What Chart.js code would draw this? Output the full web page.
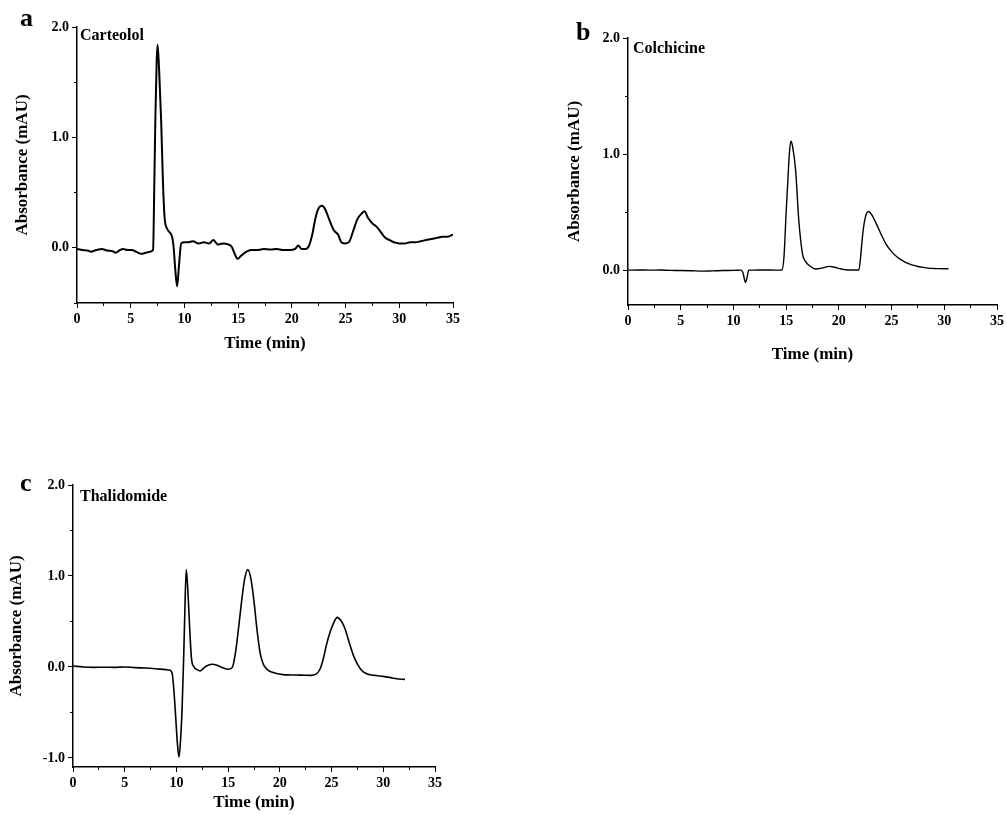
<!DOCTYPE html>
<html>
<head>
<meta charset="utf-8">
<script src="https://cdn.jsdelivr.net/npm/chart.js@4.4.0/dist/chart.umd.min.js"></script>
<style>
  body { margin: 0; background: #fff; width: 1007px; height: 815px; position: relative; overflow: hidden;
         font-family: "Liberation Serif", "Times New Roman", serif; }
  canvas { position: absolute; }
  .letter { position: absolute; font-weight: bold; font-size: 26px; line-height: 1; z-index: 2; }
  .name { position: absolute; font-weight: bold; font-size: 16px; line-height: 1; z-index: 2; }
</style>
</head>
<body>
<canvas id="chartA" width="480" height="370" style="left:0;top:0"></canvas>
<canvas id="chartB" width="467" height="370" style="left:540px;top:0"></canvas>
<canvas id="chartC" width="480" height="355" style="left:0;top:460px"></canvas>

<div class="letter" style="left:20px;top:5px">a</div>
<div class="letter" style="left:576px;top:19px">b</div>
<div class="letter" style="left:20px;top:470px">c</div>
<div class="name" style="left:80px;top:27px">Carteolol</div>
<div class="name" style="left:633px;top:40px">Colchicine</div>
<div class="name" style="left:80px;top:488px">Thalidomide</div>

<script>
// a - Carteolol
const carteololTime = [0, 0.5, 1.0, 1.3, 1.8, 2.3, 2.8, 3.3, 3.6, 4.0, 4.3, 4.7, 5.1, 5.5, 6.0, 6.4, 6.8, 7.08,
  7.2, 7.3, 7.42, 7.5, 7.65, 7.83, 8.0, 8.14, 8.4, 8.85, 9.0, 9.15, 9.32, 9.5, 9.7, 10.0, 10.3, 10.8, 11.3, 11.8,
  12.3, 12.7, 13.1, 13.6, 14.1, 14.4, 14.7, 14.95, 15.3, 15.7, 16.2, 16.8, 17.4, 18.0, 18.6, 19.2, 19.8, 20.3,
  20.6, 20.9, 21.3, 21.6, 21.9, 22.2, 22.5, 22.8, 23.1, 23.5, 23.9, 24.3, 24.6, 24.9, 25.3, 25.7, 26.1, 26.5,
  26.75, 27.1, 27.5, 27.9, 28.3, 28.7, 29.1, 29.5, 30.0, 30.5, 31.0, 31.5, 32.0, 32.5, 33.0, 33.5, 34.0, 34.5, 35.0];
const carteololAbs = [-0.01, -0.02, -0.025, -0.035, -0.02, -0.01, -0.025, -0.03, -0.045, -0.02, -0.01, -0.02, -0.02,
  -0.035, -0.055, -0.045, -0.035, -0.02,
  0.6, 1.2, 1.7, 1.84, 1.6, 1.16, 0.6, 0.29, 0.17, 0.1, 0.0, -0.2, -0.35, -0.15, 0.04, 0.05, 0.05, 0.06, 0.04, 0.05,
  0.04, 0.07, 0.03, 0.04, 0.03, 0.01, -0.06, -0.1, -0.07, -0.04, -0.02, -0.02, -0.01, -0.015, -0.01, -0.02, -0.02, -0.01,
  0.02, -0.01, -0.01, 0.02, 0.12, 0.27, 0.36, 0.38, 0.35, 0.25, 0.16, 0.12, 0.05, 0.04, 0.05, 0.15, 0.26, 0.31,
  0.33, 0.27, 0.22, 0.19, 0.14, 0.09, 0.07, 0.05, 0.04, 0.04, 0.05, 0.05, 0.06, 0.07, 0.08, 0.09, 0.1, 0.1, 0.12];

// b - Colchicine
const colchicineTime = [0, 1, 2, 3, 4, 5, 6, 7, 8, 9, 10, 10.7, 10.9, 11.05, 11.15, 11.3, 11.45, 12, 13, 14, 14.6,
  14.8, 15.0, 15.15, 15.3, 15.45, 15.6, 15.9, 16.2, 16.55, 16.8, 17.2, 17.8, 18.5, 19.1, 19.6, 20.2, 21.0, 21.9,
  22.05, 22.25, 22.5, 22.8, 23.1, 23.5, 24.0, 24.5, 25.0, 25.5, 26.0, 26.5, 27.0, 27.5, 28.0, 28.5, 29.0, 29.5, 30.0, 30.4];
const colchicineAbs = [0.0, 0.002, 0.0, 0.001, -0.002, -0.003, -0.005, -0.008, -0.006, -0.003, -0.002, 0.0, -0.02,
  -0.08, -0.105, -0.06, 0.0, 0.0, 0.002, 0.0, 0.002,
  0.12, 0.5, 0.75, 1.0, 1.11, 1.07, 0.86, 0.43, 0.14, 0.08, 0.04, 0.01, 0.02, 0.033, 0.025, 0.01, 0.002, 0.002,
  0.1, 0.3, 0.45, 0.505, 0.48, 0.41, 0.31, 0.22, 0.16, 0.115, 0.085, 0.06, 0.043, 0.032, 0.024, 0.018, 0.015,
  0.013, 0.012, 0.012];

// c - Thalidomide
const thalidomideTime = [0, 1, 2, 3, 4, 5, 6, 7, 8, 9, 9.4, 9.6, 9.75, 9.9, 10.1, 10.25, 10.4, 10.55, 10.7, 10.8,
  10.95, 11.1, 11.25, 11.45, 11.7, 12.0, 12.3, 12.6, 13.0, 13.5, 14.0, 14.5, 15.0, 15.4, 15.7, 16.0, 16.3, 16.6,
  16.9, 17.2, 17.5, 17.8, 18.1, 18.4, 18.8, 19.2, 19.8, 20.3, 21.0, 22.0, 23.0, 23.5, 23.9, 24.2, 24.5, 24.85,
  25.15, 25.55, 25.9, 26.3, 26.7, 27.1, 27.5, 27.9, 28.3, 28.7, 29.3, 30.0, 30.6, 31.3, 32.1];
const thalidomideAbs = [0.01, 0.0, -0.005, -0.003, -0.005, 0.0, -0.008, -0.012, -0.02, -0.03, -0.037, -0.08, -0.25,
  -0.5, -0.85, -0.99, -0.8, -0.45, 0.1, 0.55,
  1.07, 0.85, 0.5, 0.1, 0.0, -0.03, -0.045, -0.015, 0.015, 0.03, 0.015, -0.01, -0.026, -0.005, 0.15, 0.42, 0.72, 0.97,
  1.07, 0.97, 0.72, 0.4, 0.15, 0.03, -0.03, -0.055, -0.075, -0.085, -0.088, -0.09, -0.093, -0.08, -0.02, 0.09, 0.24, 0.38,
  0.47, 0.545, 0.51, 0.42, 0.27, 0.13, 0.03, -0.037, -0.07, -0.085, -0.095, -0.104, -0.115, -0.13, -0.137];

const timeMax = 35;
const timeStep = 5;
const absStep = 1;

const tickFont = { family: "'Liberation Serif', 'Times New Roman', serif", size: 14, weight: 'bold' };
const titleFont = { family: "'Liberation Serif', 'Times New Roman', serif", size: 17, weight: 'bold' };

const isWhole = (v, step) => Math.abs(v / step - Math.round(v / step)) < 1e-6;

function makePanel(id, times, values, p) {
  const fixSize = (size) => (scale) => {
    if (scale.isHorizontal()) scale.height = size; else scale.width = size;
  };
  new Chart(document.getElementById(id).getContext('2d'), {
    type: 'line',
    data: {
      datasets: [{
        data: times.map((t, i) => ({ x: t, y: values[i] })),
        borderColor: '#000',
        borderWidth: p.lineWidth,
        pointRadius: 0,
        fill: false,
        cubicInterpolationMode: 'monotone',
      }],
    },
    options: {
      responsive: false,
      animation: false,
      devicePixelRatio: 1,
      layout: { padding: p.padding },
      plugins: { legend: { display: false }, tooltip: { enabled: false } },
      scales: {
        x: {
          type: 'linear', position: 'bottom', min: 0, max: timeMax,
          ticks: { stepSize: timeStep, maxTicksLimit: 100, autoSkip: false, maxRotation: 0, color: '#000', font: tickFont, padding: 3 },
          grid: { drawOnChartArea: false, tickLength: 5, tickColor: '#000', tickWidth: 1 },
          border: { color: '#000', width: 1.5 },
          title: { display: true, text: 'Time (min)', color: '#000', font: titleFont, padding: { top: 0, bottom: p.xTitlePad } },
          afterFit: fixSize(p.xAxisH),
        },
        xm: {
          type: 'linear', position: 'bottom', weight: -1, min: 0, max: timeMax,
          ticks: { display: false, stepSize: timeStep / 2, maxTicksLimit: 100 },
          grid: { drawOnChartArea: false, tickLength: 3, tickColor: '#000', tickWidth: 1 },
          border: { display: false },
          afterFit: fixSize(0),
        },
        y: {
          type: 'linear', position: 'left', min: p.yMin, max: p.yMax,
          ticks: {
            stepSize: absStep, maxTicksLimit: 100, autoSkip: false, includeBounds: false,
            color: '#000', font: tickFont, padding: 3,
            callback: (v) => isWhole(v, absStep) ? v.toFixed(1) : '',
          },
          grid: {
            drawOnChartArea: false, tickLength: 5, tickWidth: 1,
            tickColor: (ctx) => ctx.tick && isWhole(ctx.tick.value, absStep) ? '#000' : 'rgba(0,0,0,0)',
          },
          border: { color: '#000', width: 1.5 },
          title: { display: true, text: 'Absorbance (mAU)', color: '#000', font: titleFont, padding: { top: p.yTitlePad, bottom: 0 } },
          afterFit: fixSize(p.yAxisW),
        },
        ym: {
          type: 'linear', position: 'left', weight: -1, min: p.yMin, max: p.yMax,
          ticks: { display: false, stepSize: absStep / 2, maxTicksLimit: 100, includeBounds: false },
          grid: {
            drawOnChartArea: false, tickLength: 3, tickWidth: 1,
            tickColor: (ctx) => ctx.tick && isWhole(ctx.tick.value, absStep / 2) ? '#000' : 'rgba(0,0,0,0)',
          },
          border: { display: false },
          afterFit: fixSize(0),
        },
      },
    },
  });
}

makePanel('chartA', carteololTime, carteololAbs, {
  yMin: -0.5, yMax: 2, lineWidth: 2,
  padding: { left: 0, top: 27, right: 27, bottom: 0 },
  yAxisW: 77, xAxisH: 67, xTitlePad: 15.8, yTitlePad: 12.8,
});
makePanel('chartB', colchicineTime, colchicineAbs, {
  yMin: -0.3, yMax: 2, lineWidth: 1.4,
  padding: { left: 0, top: 38, right: 9, bottom: 0 },
  yAxisW: 88, xAxisH: 65, xTitlePad: 4.8, yTitlePad: 24.8,
});
makePanel('chartC', thalidomideTime, thalidomideAbs, {
  yMin: -1.1, yMax: 2, lineWidth: 1.6,
  padding: { left: 0, top: 25, right: 45, bottom: 0 },
  yAxisW: 73, xAxisH: 48, xTitlePad: 1.8, yTitlePad: 6.8,
});
</script>
</body>
</html>
